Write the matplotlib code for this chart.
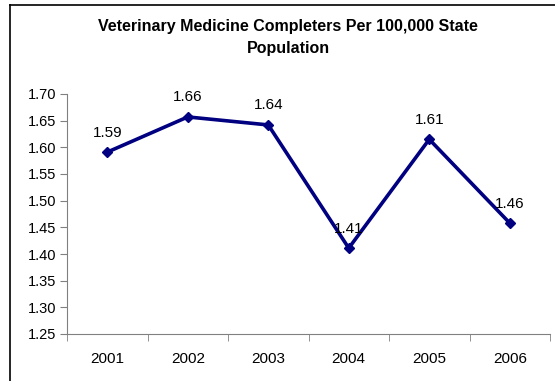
import matplotlib
matplotlib.use("Agg")
from matplotlib import pyplot as plt
from matplotlib.lines import Line2D
import numpy as np

plt.rcParams['font.family'] = ['Liberation Sans', 'DejaVu Sans']

years = ['2001', '2002', '2003', '2004', '2005', '2006']
values = [1.591, 1.657, 1.642, 1.411, 1.615, 1.458]
labels = ['1.59', '1.66', '1.64', '1.41', '1.61', '1.46']
yticks = [1.25, 1.30, 1.35, 1.40, 1.45, 1.50, 1.55, 1.60, 1.65, 1.70]

W, H = 555, 381
fig = plt.figure(figsize=(W / 100, H / 100), dpi=100)

# chart border (only the left and top sides show in the picture)
fig.add_artist(Line2D([10 / W, 10 / W], [0, 1 - 5 / H], color='black', lw=1.2))
fig.add_artist(Line2D([10 / W, 1], [1 - 5 / H, 1 - 5 / H], color='black', lw=1.2))

ax = fig.add_axes([67 / W, 1 - 334 / H, (550 - 67) / W, (334 - 94) / H])
x = np.arange(len(years))
ax.plot(x, values, color='#000080', lw=2.6, marker='D', ms=5.5, clip_on=False)
for xi, v, lab in zip(x, values, labels):
    ax.annotate(lab, xy=(xi, v), xytext=(0, 9), textcoords='offset points',
                ha='center', va='bottom', fontsize=11)

ax.set_xlim(-0.5, len(years) - 0.5)
ax.set_ylim(1.25, 1.70)
ax.set_yticks(yticks)
ax.set_yticklabels(['%.2f' % t for t in yticks], fontsize=10.5)
ax.set_xticks(x)
ax.set_xticklabels(years, fontsize=11)
ax.set_xticks(np.arange(-0.5, len(years)), minor=True)
ax.tick_params(axis='x', which='major', length=0, pad=13)
ax.tick_params(axis='x', which='minor', length=5, direction='out', color='#808080')
ax.tick_params(axis='y', length=5, direction='out', color='#808080', pad=3)
for s in ['top', 'right']:
    ax.spines[s].set_visible(False)
for s in ['left', 'bottom']:
    ax.spines[s].set_color('#808080')

fig.text(288 / W, 1 - 37.5 / H, 'Veterinary Medicine Completers Per 100,000 State\nPopulation',
         ha='center', va='center', fontsize=11.5, fontweight='bold', linespacing=1.55)

fig.savefig('out.png', dpi=100)
